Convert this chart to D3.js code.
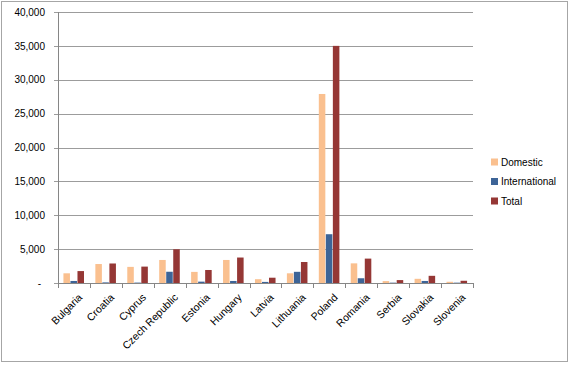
<!DOCTYPE html>
<html><head><meta charset="utf-8">
<script src="https://cdn.jsdelivr.net/npm/d3@7"></script>
<style>body{margin:0;background:#fff}svg{display:block}text{font-family:"Liberation Sans",Arial,sans-serif;fill:#000}</style>
</head><body>
<svg id="c" width="571" height="365"></svg>
<script>
const categories = ["Bulgaria","Croatia","Cyprus","Czech Republic","Estonia","Hungary","Latvia","Lithuania","Poland","Romania","Serbia","Slovakia","Slovenia"];
const seriesNames = ["Domestic","International","Total"];
const domestic = [1430,2800,2380,3400,1640,3400,560,1430,27900,2900,280,620,180];
const international = [300,90,60,1660,200,300,160,1650,7200,700,50,300,50];
const total = [1760,2880,2420,4980,1920,3760,780,3100,35000,3600,430,1060,330];
const colors = ["#FAC08F","#3D6497","#953735"];
const yTicks = [0,5000,10000,15000,20000,25000,30000,35000,40000];

const svg = d3.select("#c");
svg.append("rect").attr("x",1.5).attr("y",1.5).attr("width",566).attr("height",360)
  .attr("fill","#fff").attr("stroke","#a6a6a6");

const L=58, R=473, T=12, B=283;
const y = d3.scaleLinear().domain([0,40000]).range([B,T]);
const x0 = d3.scaleBand().domain(categories).range([L,R]).paddingInner(0.34).paddingOuter(0.17);
const x1 = d3.scaleBand().domain(seriesNames).range([0,x0.bandwidth()]);
const step = (R-L)/categories.length;

// gridlines
const yAxis = d3.axisLeft(y).tickValues(yTicks).tickSize(-(R-L)).tickPadding(13)
  .tickFormat(d => d===0 ? "-" : d3.format(",")(d));
const gy = svg.append("g").attr("transform",`translate(${L},0)`).call(yAxis);
gy.select(".domain").remove();
gy.selectAll(".tick line").attr("stroke","#9c9c9c").attr("x1",-4).attr("shape-rendering","crispEdges");
gy.selectAll(".tick text").attr("font-size",10).attr("font-family","Liberation Sans");
gy.selectAll(".tick").filter(d=>d===0).select("text").attr("dx",-4);

// bars
const data = categories.map((c,i)=>({c, v:[domestic[i],international[i],total[i]]}));
const g = svg.append("g");
g.selectAll("g").data(data).join("g").attr("transform",d=>`translate(${x0(d.c)},0)`)
  .selectAll("rect").data(d=>d.v.map((v,j)=>({s:seriesNames[j],v,j}))).join("rect")
  .attr("x",d=>x1(d.s)).attr("width",x1.bandwidth()-0.5)
  .attr("y",d=>y(d.v)).attr("height",d=>B-y(d.v)).attr("fill",d=>colors[d.j]);

// axes lines
svg.append("line").attr("x1",L+0.5).attr("x2",L+0.5).attr("y1",T).attr("y2",B).attr("stroke","#868686");
svg.append("line").attr("x1",L).attr("x2",R).attr("y1",B+0.5).attr("y2",B+0.5).attr("stroke","#868686");
const bounds = d3.range(categories.length+1).map(i=>L+i*step);
svg.selectAll(".xt").data(bounds).join("line").attr("class","xt")
  .attr("x1",d=>Math.round(d)+0.5).attr("x2",d=>Math.round(d)+0.5).attr("y1",B).attr("y2",B+5).attr("stroke","#868686");

// x labels
svg.selectAll(".xl").data(categories).join("text").attr("class","xl")
  .attr("font-size",10.5).attr("text-anchor","end")
  .attr("transform",d=>`translate(${x0(d)+x0.bandwidth()/2+9},${B+15}) rotate(-45)`)
  .text(d=>d);

// legend
const lg = svg.append("g");
seriesNames.forEach((s,i)=>{
  const yy = 162 + i*19.5;
  lg.append("rect").attr("x",491).attr("y",yy-3.5).attr("width",7).attr("height",7).attr("fill",colors[i]);
  lg.append("text").attr("x",501).attr("y",yy+3.5).attr("font-size",10).text(s);
});
</script>
</body></html>
